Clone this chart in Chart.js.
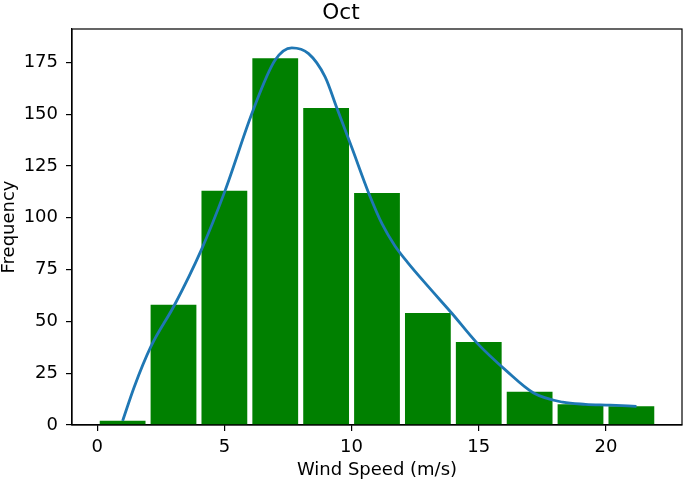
<!DOCTYPE html>
<html>
<head>
<meta charset="utf-8">
<script src="https://cdn.jsdelivr.net/npm/chart.js@4/dist/chart.umd.min.js"></script>
<style>
html,body{margin:0;padding:0;background:#fff;}
#wrap{width:685px;height:482px;position:relative;}
</style>
</head>
<body>
<div id="wrap"><canvas id="c" width="685" height="482"></canvas></div>
<script>
// Histogram bins (centers, m/s) and counts
const binCenters = [1, 3, 5, 7, 9, 11, 13, 15, 17, 19, 21];
const counts = [2, 58, 113, 177, 153, 112, 54, 40, 16, 10, 9];
// Smoothed curve
const curveX = [1.0, 1.46, 2.11, 3.04, 4.09, 5.01, 6.13, 6.99, 7.65, 8.31, 8.96, 9.43, 10.02, 10.68, 11.2, 11.7, 12.2, 13.0, 13.95, 14.9, 16.1, 17.14, 18.3, 19.2, 20.17, 21.2];
const curveY = [2, 18.5, 37.8, 57.9, 84.4, 112.5, 151.9, 176, 182, 179.2, 168, 152.7, 133.5, 111.7, 97, 86.5, 78.5, 67, 53.8, 40, 26, 15.6, 11, 10, 9.6, 9.0];
const xTicks = [0, 5, 10, 15, 20];
const yTicks = [0, 25, 50, 75, 100, 125, 150, 175];
const titleText = 'Oct';
const xLabel = 'Wind Speed (m/s)';
const yLabel = 'Frequency';

const FONT = '"DejaVu Sans"';

const frame = {
  id: 'frame',
  afterDatasetsDraw(chart) {
    const {ctx, chartArea: a} = chart;
    ctx.save();
    ctx.strokeStyle = '#000';
    ctx.lineWidth = 1.2;
    ctx.strokeRect(a.left, a.top, a.right - a.left, a.bottom - a.top);
    ctx.restore();
  }
};

new Chart(document.getElementById('c'), {
  type: 'bar',
  data: {
    datasets: [
      {
        type: 'line',
        data: curveX.map((x, i) => ({x: x, y: curveY[i]})),
        borderColor: '#1f77b4',
        borderWidth: 2.8,
        pointRadius: 0,
        fill: false,
        cubicInterpolationMode: 'monotone',
        order: 0
      },
      {
        type: 'bar',
        data: binCenters.map((x, i) => ({x: x, y: counts[i]})),
        backgroundColor: '#008000',
        borderWidth: 0,
        categoryPercentage: 1.0,
        barPercentage: 0.9,
        order: 1
      }
    ]
  },
  options: {
    responsive: false,
    animation: false,
    layout: {padding: {left: 0, right: 3, top: 0, bottom: 0}},
    plugins: {
      legend: {display: false},
      tooltip: {enabled: false},
      title: {
        display: true,
        text: titleText,
        color: '#000',
        font: {family: FONT, size: 21.6, weight: 'normal', lineHeight: 1.0},
        padding: {top: 2.5, bottom: 4.9}
      }
    },
    scales: {
      x: {
        type: 'linear',
        min: -0.99,
        max: 22.99,
        offset: false,
        afterBuildTicks: s => { s.ticks = xTicks.map(v => ({value: v})); },
        afterFit: s => { s.height = 57; },
        ticks: {color: '#000', font: {family: FONT, size: 18}, padding: 5.5, maxRotation: 0},
        grid: {display: true, offset: false, drawOnChartArea: false, drawTicks: true, tickLength: 6, color: '#000', lineWidth: 1.2},
        border: {display: true, color: '#000', width: 1.2},
        title: {display: true, text: xLabel, color: '#000', font: {family: FONT, size: 18, lineHeight: 1.2}, padding: {top: 0, bottom: 1}}
      },
      y: {
        type: 'linear',
        min: 0,
        max: 191.1,
        afterBuildTicks: s => { s.ticks = yTicks.map(v => ({value: v})); },
        afterFit: s => { s.width = 72; },
        ticks: {color: '#000', font: {family: FONT, size: 18}, padding: 8},
        grid: {display: true, drawOnChartArea: false, drawTicks: true, tickLength: 6, color: '#000', lineWidth: 1.2},
        border: {display: true, color: '#000', width: 1.2},
        title: {display: true, text: yLabel, color: '#000', font: {family: FONT, size: 18, lineHeight: 1.0}, padding: {top: 0, bottom: 0}}
      }
    }
  },
  plugins: [frame]
});
</script>
</body>
</html>
